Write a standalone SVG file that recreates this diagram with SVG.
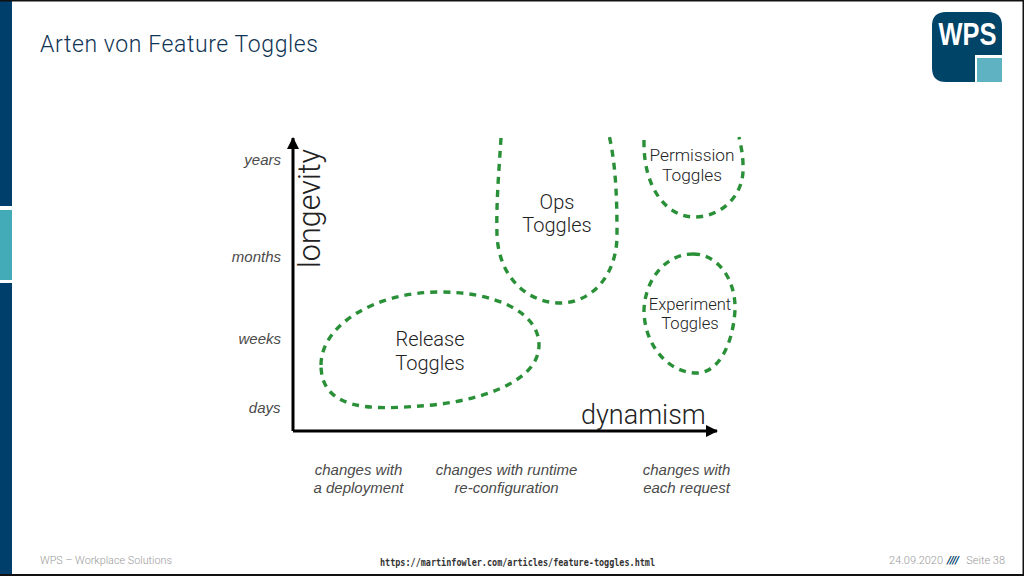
<svg xmlns="http://www.w3.org/2000/svg" width="1024" height="576" viewBox="0 0 1024 576">
<style>
.t{font-family:"Roboto","Liberation Sans",sans-serif;font-weight:300;fill:#222}
.lab{font-size:20px;text-anchor:middle}
.i{font-family:"Liberation Sans",Arial,sans-serif;font-style:italic;font-size:15px;fill:#4a4a4a}
.e{text-anchor:end}.m{text-anchor:middle}
.foot{font-family:"Roboto","Liberation Sans",sans-serif;font-weight:300;font-size:11px;fill:#9a9a9a}
.d{fill:none;stroke:#2a9038;stroke-width:3.4;stroke-dasharray:7 6}
.ax{fill:none;stroke:#000;stroke-width:3}
</style>
<defs><marker id="ah" markerUnits="userSpaceOnUse" markerWidth="14" markerHeight="14" refX="11" refY="6" orient="auto"><path d="M0 0L12 6L0 12Z" fill="#000"/></marker></defs>
<rect width="1024" height="576" fill="#fff"/>
<g id="frame">
<rect x="0" y="0" width="12" height="576" fill="#003f6b"/>
<rect x="0" y="206" width="12" height="4" fill="#fff"/>
<rect x="0" y="210" width="12" height="70" fill="#43abb8"/>
<rect x="0" y="280" width="12" height="3" fill="#fff"/>
<rect x="0" y="0" width="1024" height="1.5" fill="#111"/>
<rect x="0" y="574" width="1024" height="2" fill="#111"/>
<rect x="1022.500" y="0" width="1.500" height="576" fill="#111"/>
</g>
<text id="title" x="40" y="52" font-family="Roboto,'Liberation Sans',sans-serif" font-weight="300" font-size="23" letter-spacing="0.6" fill="#0f3454">Arten von Feature Toggles</text>
<g id="logo">
<path d="M946 12H988Q1002 12 1002 26V55H975V82H946Q932 82 932 68V26Q932 12 946 12Z" fill="#004468"/>
<rect x="977" y="58" width="25" height="24" fill="#5eb2c2"/>
<text x="967.500" y="45" text-anchor="middle" font-family="Liberation Sans,sans-serif" font-weight="700" font-size="32" fill="#fff" textLength="58" lengthAdjust="spacingAndGlyphs">WPS</text>
</g>
<g id="connectors">
<path class="ax" d="M293 431V138" marker-end="url(#ah)"/>
<path class="ax" d="M293 431H717" marker-end="url(#ah)"/>
</g>
<g id="release-toggles">
<path class="d" d="M321 365C321 325 375 292 440 292C495 292 539 312 539 345C539 385 470 403 420 406C370 410 321 410 321 365Z"/>
<text class="t lab" x="430" y="346">Release</text><text class="t lab" x="430" y="370">Toggles</text>
</g>
<g id="ops-toggles">
<path class="d" d="M501 138C499 170 496 205 497 235C499 280 530 303 560 303C592 303 617 275 617 235C617 200 616 165 609 135"/>
<text class="t lab" x="557" y="209">Ops</text><text class="t lab" x="557" y="232">Toggles</text>
</g>
<g id="permission-toggles">
<path class="d" d="M644 140C643 190 668 217 694 217C722 217 745 195 743 165C743 155 741 146 739 137"/>
<text class="t" x="692" y="161" text-anchor="middle" font-size="17.300">Permission</text><text class="t" x="692" y="181" text-anchor="middle" font-size="17.300">Toggles</text>
</g>
<g id="experiment-toggles">
<path class="d" d="M693 254C718 254 736 280 735 310C733 345 718 373 697 373C668 373 644 345 644 310C645 280 665 254 693 254Z"/>
<text class="t" x="690" y="310" text-anchor="middle" font-size="16.600">Experiment</text><text class="t" x="690" y="329" text-anchor="middle" font-size="16.600">Toggles</text>
</g>
<g id="axis-labels">
<text class="t" transform="translate(320 268) rotate(-90)" font-size="30.500">longevity</text>
<text class="t" x="581" y="424" font-size="27">dynamism</text>
<text class="i e" x="281" y="165">years</text>
<text class="i e" x="281" y="262">months</text>
<text class="i e" x="281" y="344">weeks</text>
<text class="i e" x="280.500" y="413">days</text>
<text class="i m" x="358.500" y="474.500">changes with</text>
<text class="i m" x="358.500" y="492.500">a deployment</text>
<text class="i m" x="506.500" y="474.500">changes with runtime</text>
<text class="i m" x="506.500" y="492.500">re-configuration</text>
<text class="i m" x="686.500" y="474.500">changes with</text>
<text class="i m" x="686.500" y="492.500">each request</text>
</g>
<g id="footer">
<text class="foot" x="40" y="564" textLength="132" lengthAdjust="spacingAndGlyphs">WPS – Workplace Solutions</text>
<text x="380" y="566" font-family="DejaVu Sans Mono,Liberation Mono,monospace" font-weight="700" font-size="10" fill="#333" textLength="275" lengthAdjust="spacingAndGlyphs">https://martinfowler.com/articles/feature-toggles.html</text>
<text class="foot" x="889" y="564">24.09.2020</text>
<text x="947" y="564" font-family="Roboto,sans-serif" font-size="11" font-style="italic" font-weight="700" fill="#003f6b" textLength="12" lengthAdjust="spacingAndGlyphs">////</text>
<text class="foot" x="1005" y="564" text-anchor="end">Seite 38</text>
</g>
</svg>
